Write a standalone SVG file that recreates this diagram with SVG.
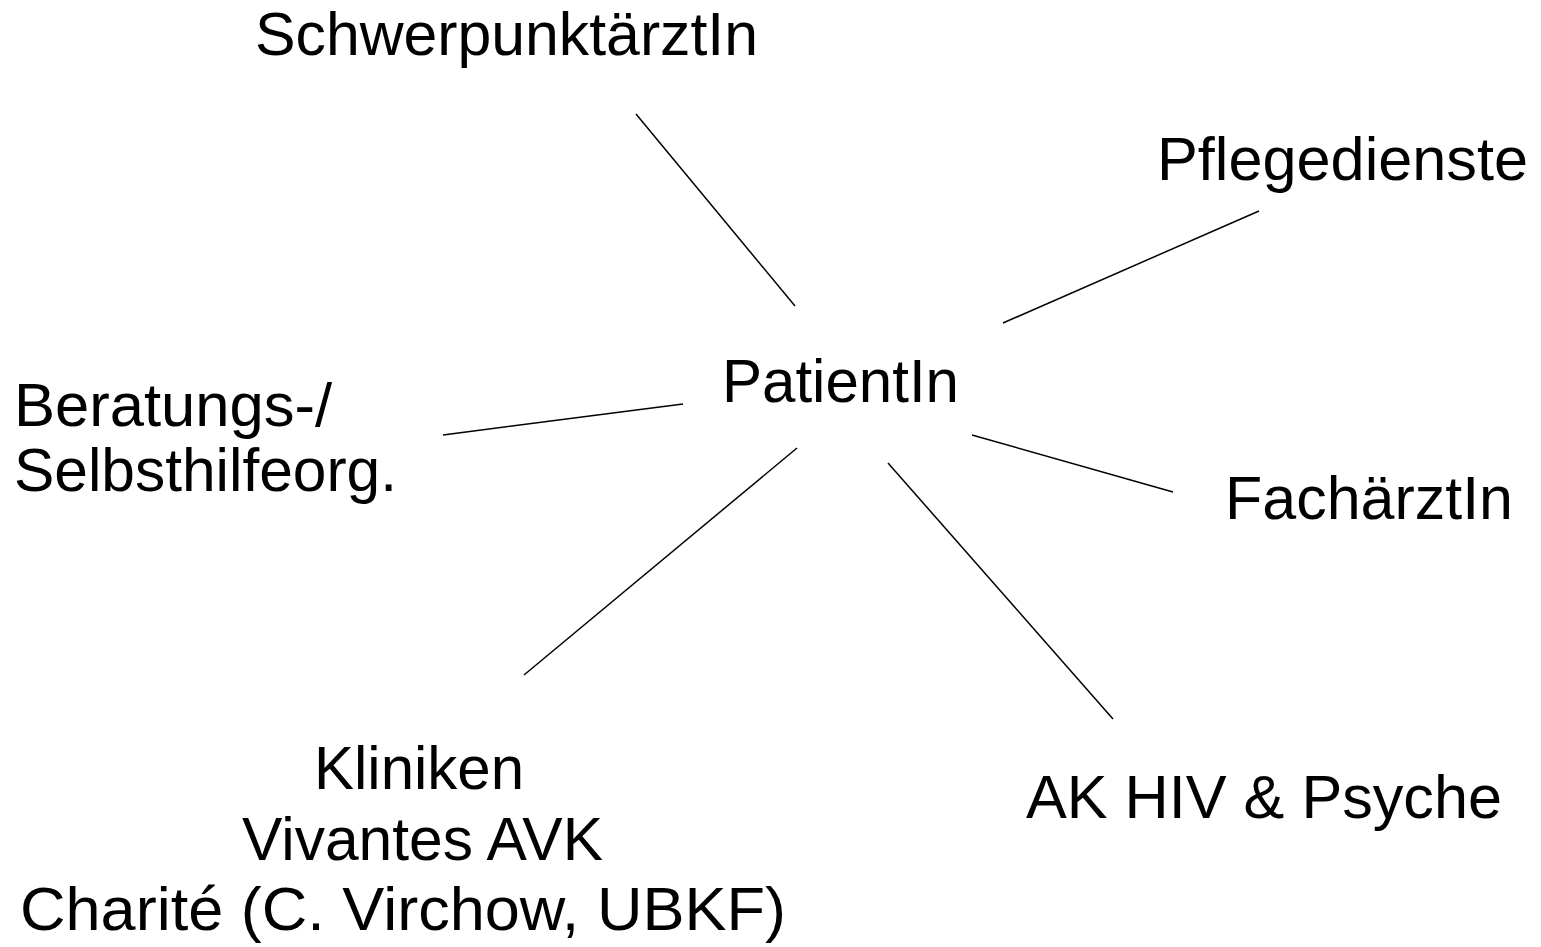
<svg xmlns="http://www.w3.org/2000/svg" width="1541" height="947" viewBox="0 0 1541 947">
<style>
text{font-family:"Liberation Sans",Arial,sans-serif;font-size:61px;fill:#000}
.c line{stroke:#000;stroke-width:1.5}
</style>
<rect width="1541" height="947" fill="#fff"/>
<g class="c" id="connectors">
<line x1="636" y1="114" x2="795" y2="306"/>
<line x1="1003" y1="323" x2="1259" y2="211"/>
<line x1="443" y1="435" x2="683" y2="404"/>
<line x1="972" y1="435" x2="1173" y2="492"/>
<line x1="797" y1="448" x2="524" y2="675"/>
<line x1="888" y1="463" x2="1113" y2="719"/>
</g>
<g id="schwerpunkt"><text x="255" y="55" textLength="503" lengthAdjust="spacingAndGlyphs">SchwerpunktärztIn</text></g>
<g id="pflege"><text x="1157" y="180" textLength="371" lengthAdjust="spacingAndGlyphs">Pflegedienste</text></g>
<g id="patient"><text x="722" y="402" textLength="237" lengthAdjust="spacingAndGlyphs">PatientIn</text></g>
<g id="beratung"><text x="14" y="426" textLength="318" lengthAdjust="spacingAndGlyphs">Beratungs-/</text><text x="14" y="491" textLength="383" lengthAdjust="spacingAndGlyphs">Selbsthilfeorg.</text></g>
<g id="facharzt"><text x="1225" y="519" textLength="288" lengthAdjust="spacingAndGlyphs">FachärztIn</text></g>
<g id="kliniken"><text x="314" y="789" textLength="210" lengthAdjust="spacingAndGlyphs">Kliniken</text><text x="242" y="860" textLength="361" lengthAdjust="spacingAndGlyphs">Vivantes AVK</text><text x="20" y="930" textLength="766" lengthAdjust="spacingAndGlyphs">Charité (C. Virchow, UBKF)</text></g>
<g id="ak"><text x="1026" y="818" textLength="476" lengthAdjust="spacingAndGlyphs">AK HIV &amp; Psyche</text></g>
</svg>
